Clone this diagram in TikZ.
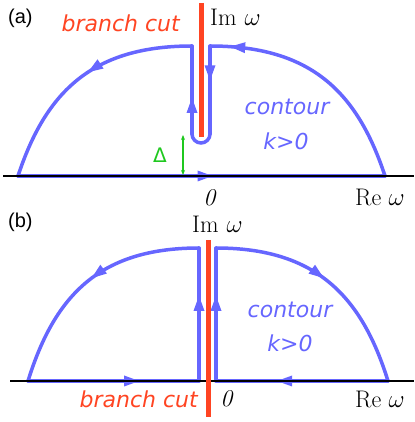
\documentclass[tikz,border=0pt]{standalone}
\usepackage{fontspec}
\newfontfamily\labfont{DejaVu Sans}
\newfontfamily\panfont{Liberation Sans}
\usetikzlibrary{arrows.meta,decorations.markings}
\definecolor{contourblue}{HTML}{6666FF}
\definecolor{cutred}{HTML}{FF4422}
\definecolor{deltagreen}{HTML}{1FC81F}

\begin{document}
\begin{tikzpicture}[x=1pt,y=1pt,
 cont/.style={draw=contourblue,line width=3.5pt,line cap=round},
 cut/.style={draw=cutred,line width=5pt},
 axis/.style={draw=black,line width=1.2pt},
 midarr/.style={postaction={decorate,decoration={markings,mark=at position #1 with {\fill[contourblue] (-15pt,-5.5pt) -- (0pt,0pt) -- (-15pt,5.5pt) -- cycle;}}}},
 dar/.style={{Stealth[length=5pt,width=4pt]}-{Stealth[length=5pt,width=4pt]},draw=deltagreen,line width=1.2pt},
 lab/.style={font=\labfont\itshape\fontsize{22}{26}\selectfont,inner sep=0pt},
 num/.style={font=\fontsize{24}{28}\selectfont,inner sep=0pt},
 pan/.style={font=\panfont\fontsize{20}{24}\selectfont,inner sep=0pt,anchor=base west}]
\useasboundingbox (0,0) rectangle (414,422);
\node[pan] (panela) at (8,398) {(a)};
\node[lab,text=cutred,anchor=base east] (cuta) at (180,390) {branch cut};
\node[num,anchor=base west] (ima) at (210,396) {Im\,\,$\omega$};
\node[lab,text=contourblue,anchor=base] (conta) at (287,307) {contour};
\node[lab,text=contourblue,anchor=base] (ka) at (286,272) {k>0};
\node[num,anchor=base] (zeroa) at (210,216) {\textit{0}};
\node[num,anchor=base west] (rea) at (355,216) {Re $\omega$};
\node[font=\labfont\fontsize{20}{24}\selectfont,text=deltagreen,inner sep=0pt] (delta) at (160,267) {Δ};
\draw[cont,midarr=0.53] (18,246) -- (385,246);
\draw[cont,midarr=0.915] (385,246) .. controls (357,331) and (310,376) .. (210,376);
\draw[cont,midarr=0.39] (210,376) -- (210,288);
\draw[cont] (210,288) arc[start angle=0,end angle=-180,radius=9];
\draw[cont,midarr=0.41] (192,288) -- (192,376);
\draw[cont,midarr=0.46] (192,376) .. controls (93,376) and (46,331) .. (18,246);
\draw[axis] (3,246) -- (414,246);
\draw[cut] (201,419) -- (201,285);
\draw[dar] (183,287) -- (183,247);
\node[pan] (panelb) at (8,194) {(b)};
\node[num,anchor=base west] (imb) at (192,189) {Im\,\,$\omega$};
\node[lab,text=contourblue,anchor=base] (contb) at (290,104) {contour};
\node[lab,text=contourblue,anchor=base] (kb) at (290,70) {k>0};
\node[lab,text=cutred,anchor=base east] (cutb) at (198,14) {branch cut};
\node[num,anchor=base] (zerob) at (227,15) {\textit{0}};
\node[num,anchor=base west] (reb) at (355,14) {Re $\omega$};
\draw[cont,midarr=0.65] (28,41) -- (199,41);
\draw[cont,midarr=0.64] (199,41) -- (199,174);
\draw[cont,midarr=0.48] (199,174) .. controls (101,174) and (55,128) .. (28,41);
\draw[cont,midarr=0.645] (388,41) -- (216,41);
\draw[cont,midarr=0.64] (216,41) -- (216,174);
\draw[cont,midarr=0.48] (216,174) .. controls (314,174) and (361,128) .. (388,41);
\draw[axis] (10,41) -- (414,41);
\draw[cut] (208,182) -- (208,5);
\end{tikzpicture}
\end{document}
